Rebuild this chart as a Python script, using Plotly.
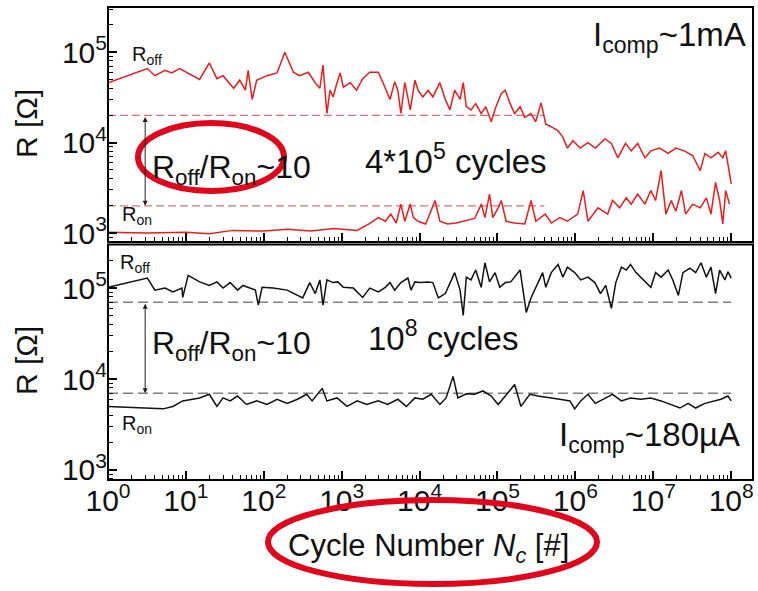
import math
import plotly.graph_objects as go

# ---- upper panel: I_comp ~ 1 mA, endurance up to 4*10^5 cycles ----
top_off_n = [1, 3.2, 4.0, 5.4, 6.6, 8.3, 15, 20, 25, 30, 41, 49, 58, 63, 71, 81, 110, 148, 186, 240,
             288, 372, 457, 525, 575, 646, 708, 776, 871, 955, 1050, 1290, 1550, 1860, 2290, 2950,
             3390, 4170, 4790, 5250, 5750, 6460, 7590, 8710, 9550, 1.1e4, 1.29e4, 1.48e4, 1.82e4,
             2.14e4, 2.45e4, 2.82e4, 3.31e4, 3.63e4, 3.98e4, 4.57e4, 5.25e4, 6.17e4, 7.08e4, 8.32e4,
             9.55e4, 1.12e5, 1.26e5, 1.45e5, 1.66e5, 1.95e5, 2.24e5, 2.69e5, 3.09e5, 3.63e5, 4.17e5,
             4.9e5, 6.0e5, 6.9e5, 7.9e5, 9.3e5, 1.15e6, 1.45e6, 1.8e6, 2.4e6, 2.9e6, 3.5e6, 4.4e6,
             5.2e6, 6.3e6, 7.8e6, 9.3e6, 1.2e7, 1.55e7, 1.95e7, 2.5e7, 3.2e7, 4.0e7, 4.6e7, 5.5e7,
             6.8e7, 7.8e7, 8.5e7, 9.5e7, 1.0e8]
top_off_r = [4.6e4, 6.6e4, 5.5e4, 6.3e4, 5.9e4, 6.6e4, 5.0e4, 7.6e4, 5.1e4, 5.5e4, 4.0e4, 4.9e4,
             3.8e4, 6.3e4, 3.0e4, 4.9e4, 5.5e4, 5.9e4, 1.0e5, 6.0e4, 5.5e4, 6.0e4, 4.6e4, 4.0e4,
             7.2e4, 2.1e4, 3.8e4, 3.2e4, 4.6e4, 5.9e4, 4.1e4, 4.6e4, 3.8e4, 5.1e4, 6.0e4, 6.0e4,
             4.6e4, 3.0e4, 4.7e4, 3.8e4, 2.1e4, 4.6e4, 2.3e4, 4.9e4, 3.8e4, 3.2e4, 3.8e4, 3.2e4,
             4.6e4, 3.0e4, 2.3e4, 3.8e4, 3.0e4, 4.6e4, 2.5e4, 2.3e4, 2.7e4, 2.1e4, 2.5e4, 1.7e4,
             2.5e4, 3.5e4, 3.8e4, 2.7e4, 2.1e4, 2.5e4, 1.9e4, 2.1e4, 1.7e4, 2.75e4, 1.6e4, 1.5e4,
             1.35e4, 1.15e4, 8.7e3, 1.05e4, 8.7e3, 1.0e4, 8.7e3, 1.1e4, 9.8e3, 6.8e3, 9.8e3, 8.1e3,
             9.8e3, 6.8e3, 8.1e3, 8.7e3, 7.6e3, 8.7e3, 8.1e3, 7.2e3, 4.9e3, 7.6e3, 6.8e3, 7.8e3,
             6.8e3, 8.1e3, 4.6e3, 3.5e3]

top_on_n = [1, 3.2, 10, 20, 40, 100, 200, 400, 800, 1580, 2240, 2950, 3630, 4270, 5010, 5750, 6460,
            7590, 8320, 9550, 1.2e4, 1.58e4, 1.82e4, 2.29e4, 2.95e4, 3.8e4, 5.1e4, 6.2e4, 6.9e4,
            7.9e4, 8.7e4, 1.02e5, 1.12e5, 1.29e5, 1.66e5, 2.24e5, 2.7e5, 3.1e5, 4.1e5, 4.9e5, 6.3e5,
            7.9e5, 1.07e6, 1.26e6, 1.45e6, 1.95e6, 2.6e6, 3.0e6, 3.7e6, 4.5e6, 5.2e6, 6.3e6, 7.8e6,
            9.3e6, 1.07e7, 1.26e7, 1.45e7, 1.7e7, 1.95e7, 2.3e7, 2.6e7, 3.2e7, 4.0e7, 4.8e7, 5.5e7,
            6.3e7, 7.1e7, 7.8e7, 8.5e7, 9.5e7]
top_on_r = [1020, 1000, 1020, 980, 1070, 1050, 1100, 1050, 1120, 1070, 1260, 1480, 1350, 1620, 1290,
            2090, 1350, 2090, 1480, 1350, 1260, 2290, 1350, 1260, 1290, 1350, 1450, 2090, 1480, 2690,
            1480, 1900, 2290, 1350, 1290, 1260, 2290, 1350, 1620, 1290, 1480, 1350, 1620, 2950, 1350,
            1900, 1620, 2290, 1900, 2450, 2090, 2690, 2090, 2950, 2290, 4900, 1620, 2290, 1740, 2950,
            1620, 2090, 1900, 2450, 1620, 3630, 2290, 1260, 2950, 2090]

# ---- lower panel: I_comp ~ 180 uA, endurance up to 10^8 cycles ----
bot_off_n = [1, 3.2, 4.0, 5.4, 6.8, 8.9, 9.1, 10.7, 15, 20, 25, 30, 37, 46, 54, 66, 78, 85, 95, 132,
             200, 316, 389, 457, 525, 575, 646, 776, 891, 1050, 1410, 1860, 2290, 2950, 3630, 4170,
             4790, 5750, 7080, 7760, 8710, 1.0e4, 1.29e4, 1.48e4, 1.74e4, 2.14e4, 2.45e4, 2.82e4,
             3.31e4, 3.63e4, 3.98e4, 4.57e4, 5.25e4, 6.17e4, 6.9e4, 7.9e4, 9.3e4, 1.07e5, 1.26e5,
             1.48e5, 1.95e5, 2.24e5, 2.34e5, 2.69e5, 3.31e5, 3.8e5, 4.17e5, 4.9e5, 6.0e5, 6.9e5,
             7.9e5, 9.8e5, 1.17e6, 1.45e6, 1.78e6, 2.1e6, 2.45e6, 2.9e6, 3.3e6, 3.9e6, 4.5e6, 5.1e6,
             6.0e6, 6.9e6, 8.1e6, 9.3e6, 1.07e7, 1.26e7, 1.55e7, 1.78e7, 2.1e7, 2.4e7, 2.95e7,
             3.5e7, 4.1e7, 4.8e7, 5.5e7, 6.3e7, 7.1e7, 8.3e7, 9.1e7, 1.0e8]
bot_off_r = [1.02e5, 1.29e5, 9.5e4, 1.0e5, 9.1e4, 1.0e5, 7.9e4, 1.38e5, 1.17e5, 1.07e5, 1.17e5,
             1.0e5, 1.15e5, 9.5e4, 1.07e5, 1.0e5, 9.5e4, 6.5e4, 1.02e5, 1.0e5, 9.5e4, 7.8e4, 1.15e5,
             8.7e4, 1.23e5, 6.5e4, 1.23e5, 1.15e5, 1.17e5, 1.02e5, 1.0e5, 7.9e4, 1.0e5, 9.1e4,
             1.02e5, 1.15e5, 9.5e4, 1.15e5, 1.29e5, 9.5e4, 1.17e5, 1.15e5, 1.17e5, 1.15e5, 7.8e4,
             8.7e4, 1.15e5, 1.48e5, 9.5e4, 5.0e4, 1.32e5, 1.23e5, 1.58e5, 1.02e5, 1.9e5, 1.17e5,
             1.48e5, 1.02e5, 1.15e5, 1.17e5, 1.58e5, 6.8e4, 5.4e4, 7.8e4, 1.15e5, 1.48e5, 1.02e5,
             1.48e5, 1.82e5, 1.32e5, 1.7e5, 1.48e5, 1.23e5, 1.32e5, 1.15e5, 8.7e4, 1.07e5, 6.0e4,
             1.15e5, 1.7e5, 1.58e5, 1.82e5, 1.48e5, 1.32e5, 1.17e5, 1.02e5, 1.48e5, 1.32e5, 1.58e5,
             1.23e5, 8.3e4, 1.48e5, 1.66e5, 1.48e5, 1.9e5, 1.32e5, 1.7e5, 8.7e4, 1.58e5, 1.23e5,
             1.51e5, 1.29e5]

bot_on_n = [1, 5.1, 6.8, 9.1, 15, 20, 25, 30, 37, 46, 60, 81, 110, 148, 200, 270, 355, 417, 562, 646,
            871, 1170, 1580, 2090, 2950, 3890, 5250, 6760, 8710, 1.1e4, 1.41e4, 1.82e4, 2.19e4,
            2.69e4, 3.1e4, 3.98e4, 5.1e4, 6.5e4, 8.3e4, 1.02e5, 1.26e5, 1.66e5, 2.0e5, 2.6e5, 3.3e5,
            4.5e5, 6.3e5, 8.5e5, 9.8e5, 1.17e6, 1.45e6, 1.8e6, 2.4e6, 3.0e6, 3.9e6, 5.1e6, 6.9e6,
            9.3e6, 1.26e7, 1.7e7, 2.2e7, 2.8e7, 3.5e7, 4.6e7, 5.9e7, 7.4e7, 9.1e7, 1.0e8]
bot_on_r = [5000, 4700, 5000, 5750, 6200, 6800, 5000, 6200, 5750, 6500, 5250, 5750, 5250, 6000, 5400,
            6000, 6800, 5750, 7900, 5750, 6200, 5000, 5750, 5250, 5750, 5250, 6000, 5000, 6200, 6000,
            6800, 5250, 6200, 10700, 6200, 6900, 6800, 7400, 6500, 5250, 6500, 8700, 5000, 6800,
            6500, 6200, 6000, 5750, 4700, 5750, 6800, 5400, 6200, 6800, 5750, 6200, 6000, 6200,
            5750, 5250, 4800, 5400, 4800, 5400, 5750, 6000, 6500, 5750]

# window lines (R_off / R_on ~ 10)
top_ref_n = [1, 4e5]
top_ref_off = 2e4
top_ref_on = 2e3
bot_ref_n = [1, 1e8]
bot_ref_off = 7e4
bot_ref_on = 7e3

x_tick_vals = [1, 1e1, 1e2, 1e3, 1e4, 1e5, 1e6, 1e7, 1e8]
x_tick_text = ["10<sup>0</sup>", "10<sup>1</sup>", "10<sup>2</sup>", "10<sup>3</sup>", "10<sup>4</sup>",
               "10<sup>5</sup>", "10<sup>6</sup>", "10<sup>7</sup>", "10<sup>8</sup>"]
y_tick_vals = [1e3, 1e4, 1e5]
y_tick_text = ["10<sup>3</sup>", "10<sup>4</sup>", "10<sup>5</sup>"]

FONT = "Liberation Sans, Arial, sans-serif"
RED = "#ec1c1c"
PINK = "#e5707c"
MARK = "#e0061c"

W, H = 758, 591
ML, MR, MT, MB = 108, 5, 7, 111
PW, PH = W - ML - MR, H - MT - MB

X_RANGE = [0, 8.28]
Y1_RANGE = [2.9, 5.5]
Y2_RANGE = [2.89, 5.48]


def px(x):
    return (x - ML) / PW


def py(y):
    return (H - MB - y) / PH


fig = go.Figure()

# upper panel
for yv in (top_ref_off, top_ref_on):
    fig.add_trace(go.Scatter(x=top_ref_n, y=[yv, yv], mode="lines", xaxis="x", yaxis="y",
                             line=dict(color=PINK, width=1.3, dash="8px,4px"), hoverinfo="skip"))
fig.add_trace(go.Scatter(x=top_off_n, y=top_off_r, mode="lines", xaxis="x", yaxis="y",
                         line=dict(color=RED, width=1.5)))
fig.add_trace(go.Scatter(x=top_on_n, y=top_on_r, mode="lines", xaxis="x", yaxis="y",
                         line=dict(color=RED, width=1.5)))

# lower panel
for yv in (bot_ref_off, bot_ref_on):
    fig.add_trace(go.Scatter(x=bot_ref_n, y=[yv, yv], mode="lines", xaxis="x2", yaxis="y2",
                             line=dict(color="#808080", width=1.5, dash="10px,5px"), hoverinfo="skip"))
fig.add_trace(go.Scatter(x=bot_off_n, y=bot_off_r, mode="lines", xaxis="x2", yaxis="y2",
                         line=dict(color="#111111", width=1.5)))
fig.add_trace(go.Scatter(x=bot_on_n, y=bot_on_r, mode="lines", xaxis="x2", yaxis="y2",
                         line=dict(color="#111111", width=1.5)))

minor_x = [m * 10 ** k for k in range(0, 9) for m in range(2, 10)]
minor_y = [m * 10 ** k for k in range(2, 6) for m in range(2, 10)]

axis_common = dict(type="log", showgrid=False, zeroline=False, showline=False, ticks="inside",
                   tickcolor="black", tickwidth=1.5, ticklen=9,
                   tickfont=dict(family=FONT, size=30, color="#111111"))
x_common = dict(axis_common, range=X_RANGE, tickmode="array", tickvals=x_tick_vals,
                ticktext=x_tick_text,
                minor=dict(tickmode="array", tickvals=minor_x, ticks="inside", ticklen=5,
                           tickwidth=1.2, tickcolor="black", showgrid=False))
y_common = dict(axis_common, tickmode="array", tickvals=y_tick_vals, ticktext=y_tick_text,
                minor=dict(tickmode="array", tickvals=minor_y, ticks="inside", ticklen=5,
                           tickwidth=1.2, tickcolor="black", showgrid=False))

fig.update_layout(
    width=W, height=H, margin=dict(l=ML, r=MR, t=MT, b=MB),
    paper_bgcolor="white", plot_bgcolor="white", showlegend=False,
    xaxis=dict(x_common, domain=[0, 1], anchor="y", showticklabels=False),
    yaxis=dict(y_common, domain=[0.503, 1], range=Y1_RANGE, anchor="x"),
    xaxis2=dict(x_common, domain=[0, 1], anchor="y2"),
    yaxis2=dict(y_common, domain=[0, 0.498], range=Y2_RANGE, anchor="x2"),
)

# panel frames
for xr, yr in (("x domain", "y domain"), ("x2 domain", "y2 domain")):
    fig.add_shape(type="rect", xref=xr, yref=yr, x0=0, x1=1, y0=0, y1=1,
                  line=dict(color="black", width=2), fillcolor="rgba(0,0,0,0)", layer="above")

ann = []


def label(text, x, y, size, xanchor="left", yanchor="middle", angle=0):
    ann.append(dict(text=text, x=px(x), y=py(y), xref="paper", yref="paper", showarrow=False,
                    xanchor=xanchor, yanchor=yanchor, textangle=angle,
                    font=dict(family=FONT, size=size, color="#111111")))


# axis titles
label("R [\u03a9]", 26, 124, 30, xanchor="center", angle=-90)
label("R [\u03a9]", 26, 361, 30, xanchor="center", angle=-90)
label("Cycle Number <i>N<sub>c</sub></i> [#]", 428, 548, 31, xanchor="center")

# upper panel texts
label("R<sub>off</sub>", 130, 55, 20)
label("R<sub>on</sub>", 120, 215, 20)
label("R<sub>off</sub>/R<sub>on</sub>~10", 150, 169, 32)
label("4*10<sup>5</sup> cycles", 363, 159, 33)
label("I<sub>comp</sub>~1mA", 748, 37, 33, xanchor="right")

# lower panel texts
label("R<sub>off</sub>", 118, 264, 20)
label("R<sub>on</sub>", 120, 424, 20)
label("R<sub>off</sub>/R<sub>on</sub>~10", 150, 345, 32)
label("10<sup>8</sup> cycles", 366, 336, 33)
label("I<sub>comp</sub>~180\u00b5A", 742, 437, 33, xanchor="right")

# double-headed arrows marking the resistance window
for xa, ya, r_hi, r_lo in (("x", "y", top_ref_off, top_ref_on), ("x2", "y2", bot_ref_off, bot_ref_on)):
    ann.append(dict(x=math.log10(3.0), y=math.log10(r_lo), ax=math.log10(3.0), ay=math.log10(r_hi),
                    xref=xa, yref=ya, axref=xa, ayref=ya, text="", showarrow=True,
                    arrowhead=2, startarrowhead=2, arrowside="end+start", arrowsize=1,
                    startarrowsize=1, arrowwidth=1, arrowcolor="#222222", standoff=0, startstandoff=0))

fig.update_layout(annotations=ann)

# highlight ellipses
fig.add_shape(type="circle", xref="paper", yref="paper", x0=px(138), x1=px(284), y0=py(123), y1=py(191),
              line=dict(color=MARK, width=6), layer="above")
fig.add_shape(type="circle", xref="paper", yref="paper", x0=px(268), x1=px(597), y0=py(500), y1=py(584),
              line=dict(color=MARK, width=6), layer="above")

fig.write_html("out.html")
